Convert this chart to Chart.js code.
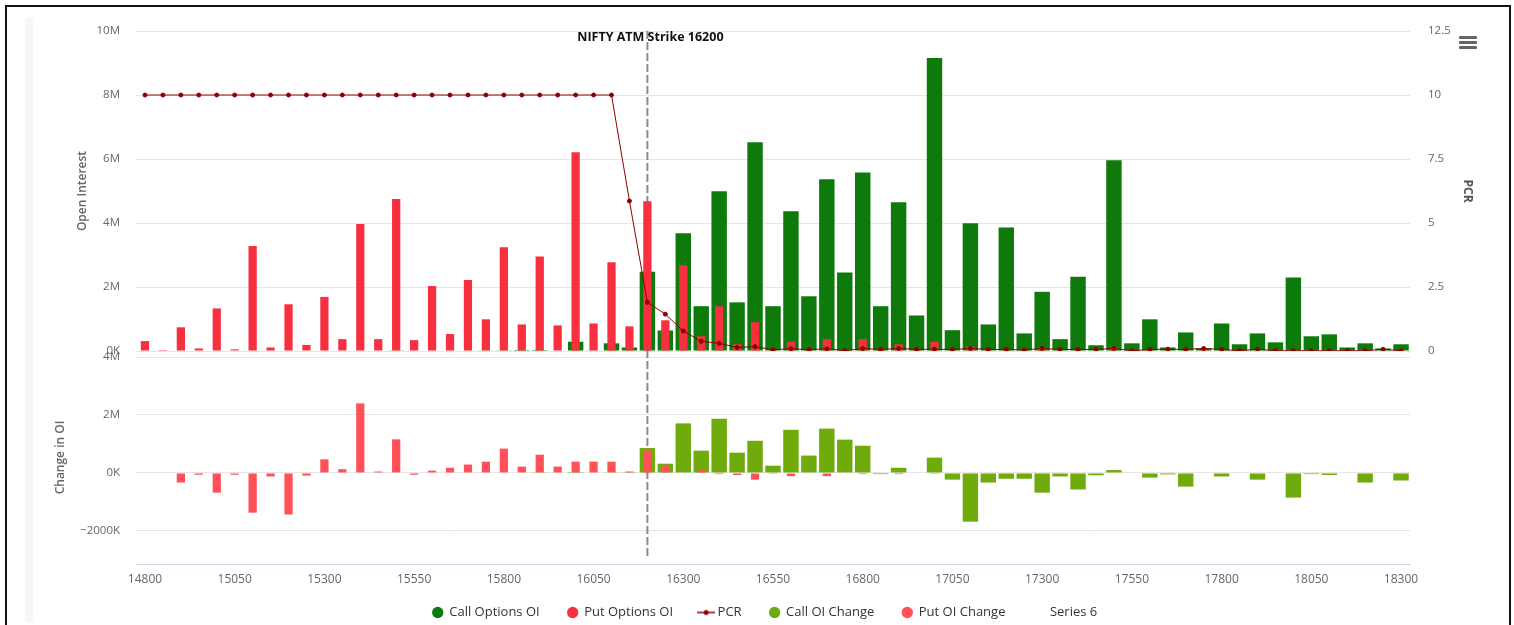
<!DOCTYPE html>
<html>
<head>
<meta charset="utf-8">
<title>NIFTY Option Chain OI</title>
<script src="https://cdn.jsdelivr.net/npm/chart.js@4.4.1/dist/chart.umd.min.js"></script>
<style>
  html, body { margin: 0; padding: 0; background: #fff; overflow: hidden; }
  body { width: 1514px; height: 625px; position: relative; }
  #frame { position: absolute; left: 5px; top: 5px; width: 1506px; height: 640px; border: 2px solid #111; box-sizing: border-box; }
  #strip { position: absolute; left: 25px; top: 18px; width: 8px; height: 604px; background: #f7f7f7; }
  #wrap { position: absolute; left: 33px; top: 9px; width: 1475px; height: 631px; }
  #menu { position: absolute; left: 1459px; top: 36px; width: 18px; }
  #menu div { height: 3px; background: #666; margin-bottom: 2px; border-radius: 1px; }
</style>
</head>
<body>
<div id="frame"></div>
<div id="strip"></div>
<div id="wrap"><canvas id="oiChart"></canvas></div>
<div id="menu"><div></div><div></div><div></div></div>
<script>
// strikes on the x axis
const strikes = [
  14800, 14850, 14900, 14950, 15000, 15050, 15100, 15150, 15200, 15250,
  15300, 15350, 15400, 15450, 15500, 15550, 15600, 15650, 15700, 15750,
  15800, 15850, 15900, 15950, 16000, 16050, 16100, 16150, 16200, 16250,
  16300, 16350, 16400, 16450, 16500, 16550, 16600, 16650, 16700, 16750,
  16800, 16850, 16900, 16950, 17000, 17050, 17100, 17150, 17200, 17250,
  17300, 17350, 17400, 17450, 17500, 17550, 17600, 17650, 17700, 17750,
  17800, 17850, 17900, 17950, 18000, 18050, 18100, 18150, 18200, 18250,
  18300
];
const atmStrike = 16200;

// open interest (millions)
const callOI = [
  0, 0, 0, 0, 0, 0, 0, 0, 0, 0,
  0, 0, 0, 0, 0.01, 0, 0, 0, 0, 0.02,
  0.01, 0.03, 0.03, 0, 0.29, 0.02, 0.24, 0.11, 2.48, 0.64,
  3.68, 1.40, 4.99, 1.52, 6.52, 1.40, 4.37, 1.71, 5.37, 2.45,
  5.58, 1.40, 4.65, 1.11, 9.16, 0.65, 3.99, 0.83, 3.86, 0.55,
  1.85, 0.37, 2.32, 0.18, 5.96, 0.24, 0.99, 0.11, 0.58, 0.08,
  0.86, 0.21, 0.55, 0.27, 2.30, 0.46, 0.52, 0.11, 0.24, 0.08,
  0.21
];
const putOI = [
  0.31, 0.03, 0.74, 0.08, 1.33, 0.05, 3.28, 0.11, 1.46, 0.19,
  1.69, 0.37, 3.97, 0.37, 4.75, 0.34, 2.03, 0.53, 2.22, 0.99,
  3.24, 0.83, 2.95, 0.80, 6.21, 0.86, 2.77, 0.77, 4.68, 0.96,
  2.68, 0.46, 1.40, 0.21, 0.90, 0.03, 0.29, 0.03, 0.37, 0.03,
  0.37, 0.05, 0.21, 0.04, 0.29, 0.02, 0.14, 0.02, 0.05, 0.03,
  0.11, 0.02, 0.03, 0.02, 0.11, 0.02, 0.03, 0.02, 0.02, 0.03,
  0.02, 0.01, 0.02, 0.01, 0.02, 0.01, 0.02, 0.01, 0.02, 0.01,
  0.01
];
const pcr = [
  10, 10, 10, 10, 10, 10, 10, 10, 10, 10,
  10, 10, 10, 10, 10, 10, 10, 10, 10, 10,
  10, 10, 10, 10, 10, 10, 10, 5.86, 1.90, 1.44,
  0.78, 0.38, 0.30, 0.14, 0.17, 0.05, 0.09, 0.05, 0.09, 0.01,
  0.10, 0.06, 0.10, 0.06, 0.07, 0.06, 0.10, 0.06, 0.06, 0.04,
  0.10, 0.06, 0.06, 0.06, 0.10, 0.01, 0.06, 0.07, 0.06, 0.10,
  0.06, 0.01, 0.07, 0.01, 0.01, 0.01, 0.01, 0.01, 0.01, 0.07,
  0.01
];

// change in open interest (millions)
const callOIChange = [
  0, 0, 0, 0, 0, 0, 0, 0, 0, 0,
  0, 0, 0, 0, 0, 0, 0, 0, 0, 0,
  0, 0, 0.01, 0, 0.03, 0, 0.02, 0.01, 0.86, 0.32,
  1.71, 0.77, 1.87, 0.70, 1.11, 0.25, 1.49, 0.60, 1.53, 1.15,
  0.94, -0.04, 0.18, 0, 0.53, -0.23, -1.68, -0.33, -0.20, -0.20,
  -0.68, -0.12, -0.57, -0.08, 0.10, 0, -0.16, -0.05, -0.47, 0,
  -0.12, 0, -0.23, 0, -0.85, -0.04, -0.07, 0, -0.33, 0,
  -0.26
];
const putOIChange = [
  0, 0, -0.33, -0.06, -0.68, -0.06, -1.37, -0.12, -1.43, -0.09,
  0.47, 0.13, 2.40, 0.05, 1.16, -0.06, 0.08, 0.18, 0.29, 0.39,
  0.84, 0.22, 0.63, 0.22, 0.39, 0.39, 0.39, 0.05, 0.78, 0.25,
  0, 0.11, -0.04, -0.07, -0.23, -0.03, -0.11, 0, -0.11, 0,
  -0.04, 0, -0.04, 0, -0.03, 0, 0, 0, -0.02, 0,
  0, 0, 0, 0, 0, 0, 0, 0, 0, 0,
  0, 0, 0, 0, 0, 0, 0, 0, 0, 0,
  0
];

// tick values of the lower pane
const chgTicks = [-2000000, 0, 2000000, 4000000];

const M = 1000000;
const toUnits = arr => arr.map(v => v * M);

const FONT = '"Open Sans", "Noto Sans", sans-serif';
Chart.defaults.font.family = FONT;
Chart.defaults.color = '#666666';

function fmtOI(v) {
  if (v === 0) return '0K';
  if (v < 0) return '\u2212' + (-v / 1000) + 'K';
  return (v / M) + 'M';
}

// fixed width for a y axis, and no extra top/bottom padding from its labels
const fixWidth = w => s => {
  s.width = w;
  s.paddingTop = 0;
  s.paddingBottom = 0;
};

// legend symbol for the PCR line series
const pcrSymbol = document.createElement('canvas');
pcrSymbol.width = 18;
pcrSymbol.height = 8;
(function () {
  const c = pcrSymbol.getContext('2d');
  c.strokeStyle = '#8b0000';
  c.lineWidth = 1.5;
  c.beginPath();
  c.moveTo(0, 4);
  c.lineTo(18, 4);
  c.stroke();
  c.fillStyle = '#8b0000';
  c.beginPath();
  c.arc(9, 4, 2.5, 0, Math.PI * 2);
  c.fill();
})();

const atmLine = {
  id: 'atmLine',
  afterLayout(chart) {
    // pull the legend row up closer to the axis labels
    chart.legend.top -= 11;
    chart.legend.bottom -= 11;
  },
  beforeDatasetsDraw(chart) {
    const {ctx, scales} = chart;
    const px = scales.x.getPixelForValue(strikes.indexOf(atmStrike));
    ctx.save();
    ctx.strokeStyle = '#8c8c8c';
    ctx.lineWidth = 2;
    ctx.setLineDash([8, 3]);
    ctx.beginPath();
    ctx.moveTo(px, scales.yOi.top);
    ctx.lineTo(px, scales.yChg.bottom - 7);
    ctx.stroke();
    ctx.restore();
  },
  afterDraw(chart) {
    const {ctx, scales} = chart;
    const px = scales.x.getPixelForValue(strikes.indexOf(atmStrike));
    ctx.save();
    ctx.font = 'bold 12.5px ' + FONT;
    ctx.fillStyle = '#111';
    ctx.textAlign = 'center';
    ctx.textBaseline = 'middle';
    ctx.fillText('NIFTY ATM Strike ' + atmStrike, px + 3, scales.yOi.top + 6);
    ctx.restore();
  }
};

new Chart(document.getElementById('oiChart'), {
  type: 'bar',
  data: {
    labels: strikes.map(String),
    datasets: [
      {
        label: 'Call Options OI',
        data: toUnits(callOI),
        yAxisID: 'yOi',
        backgroundColor: '#0e7a0b',
        grouped: false,
        categoryPercentage: 1,
        barPercentage: 0.86,
        order: 3
      },
      {
        label: 'Put Options OI',
        data: toUnits(putOI),
        yAxisID: 'yOi',
        backgroundColor: '#f72f3e',
        grouped: false,
        categoryPercentage: 1,
        barPercentage: 0.46,
        order: 2
      },
      {
        type: 'line',
        label: 'PCR',
        data: pcr,
        yAxisID: 'yPcr',
        borderColor: '#8b0000',
        backgroundColor: '#8b0000',
        borderWidth: 1,
        pointRadius: 2,
        pointHoverRadius: 2,
        tension: 0,
        order: 0
      },
      {
        label: 'Call OI Change',
        data: toUnits(callOIChange),
        yAxisID: 'yChg',
        backgroundColor: '#70ab0c',
        grouped: false,
        categoryPercentage: 1,
        barPercentage: 0.86,
        order: 3
      },
      {
        label: 'Put OI Change',
        data: toUnits(putOIChange),
        yAxisID: 'yChg',
        backgroundColor: '#ff5157',
        grouped: false,
        categoryPercentage: 1,
        barPercentage: 0.46,
        order: 2
      },
      {
        type: 'line',
        label: 'Series 6',
        data: [],
        yAxisID: 'yOi',
        borderColor: 'rgba(0,0,0,0)',
        backgroundColor: 'rgba(0,0,0,0)',
        order: 5
      }
    ]
  },
  options: {
    responsive: true,
    maintainAspectRatio: false,
    animation: false,
    layout: { padding: { top: 22, right: 11, left: 0, bottom: 0 } },
    plugins: {
      tooltip: { enabled: false },
      legend: {
        position: 'bottom',
        labels: {
          color: '#333333',
          font: { size: 13 },
          usePointStyle: true,
          boxWidth: 10,
          boxHeight: 8,
          padding: 28,
          sort: (a, b) => a.datasetIndex - b.datasetIndex,
          generateLabels(chart) {
            const items = Chart.defaults.plugins.legend.labels.generateLabels(chart);
            items.forEach(it => {
              it.lineWidth = 0;
              it.pointStyle = 'circle';
              if (it.text === 'PCR') it.pointStyle = pcrSymbol;
              if (it.text === 'Series 6') {
                it.fillStyle = 'rgba(0,0,0,0)';
                it.strokeStyle = 'rgba(0,0,0,0)';
              }
            });
            return items;
          }
        }
      }
    },
    scales: {
      x: {
        type: 'category',
        offset: true,
        grid: { display: false, drawTicks: false },
        border: { display: true, color: '#ccd6eb', width: 1 },
        ticks: {
          autoSkip: false,
          maxRotation: 0,
          padding: 8,
          color: '#666666',
          font: { size: 12 },
          callback: function (val, idx) { return idx % 5 === 0 ? this.getLabelForValue(val) : ''; }
        },
        afterFit: s => { s.height = 25; }
      },
      yChg: {
        type: 'linear',
        position: 'left',
        stack: 'left',
        stackWeight: 213,
        min: -3.14 * M,
        max: 4.207 * M,
        grid: { color: '#e6e6e6', drawTicks: false },
        border: { display: false },
        ticks: { padding: 16, font: { size: 11.5 }, callback: fmtOI },
        afterBuildTicks: s => { s.ticks = chgTicks.map(v => ({ value: v })); },
        title: { display: true, text: 'Change in OI', color: '#666666', font: { size: 12, weight: '600' }, padding: { top: 20, bottom: 0 } },
        afterFit: fixWidth(103)
      },
      yOi: {
        type: 'linear',
        position: 'left',
        stack: 'left',
        stackWeight: 320,
        min: 0,
        max: 10 * M,
        grid: { color: '#e6e6e6', drawTicks: false },
        border: { display: false },
        ticks: { stepSize: 2 * M, padding: 16, font: { size: 11.5 }, callback: fmtOI },
        title: { display: true, text: 'Open Interest', color: '#666666', font: { size: 12, weight: '600' }, padding: { top: 42, bottom: 0 } },
        afterFit: fixWidth(103)
      },
      yPcr: {
        type: 'linear',
        position: 'right',
        stack: 'right',
        stackWeight: 320,
        min: 0,
        max: 12.5,
        grid: { display: false, drawTicks: false },
        border: { display: false },
        ticks: { stepSize: 2.5, padding: 18, font: { size: 11.5 } },
        title: { display: true, text: 'PCR', color: '#555555', font: { size: 12, weight: 'bold' }, padding: { top: 22, bottom: 0 } },
        afterFit: fixWidth(87)
      },
      yPad: {
        type: 'linear',
        position: 'right',
        stack: 'right',
        stackWeight: 213,
        display: false
      }
    }
  },
  plugins: [atmLine]
});
</script>
</body>
</html>
